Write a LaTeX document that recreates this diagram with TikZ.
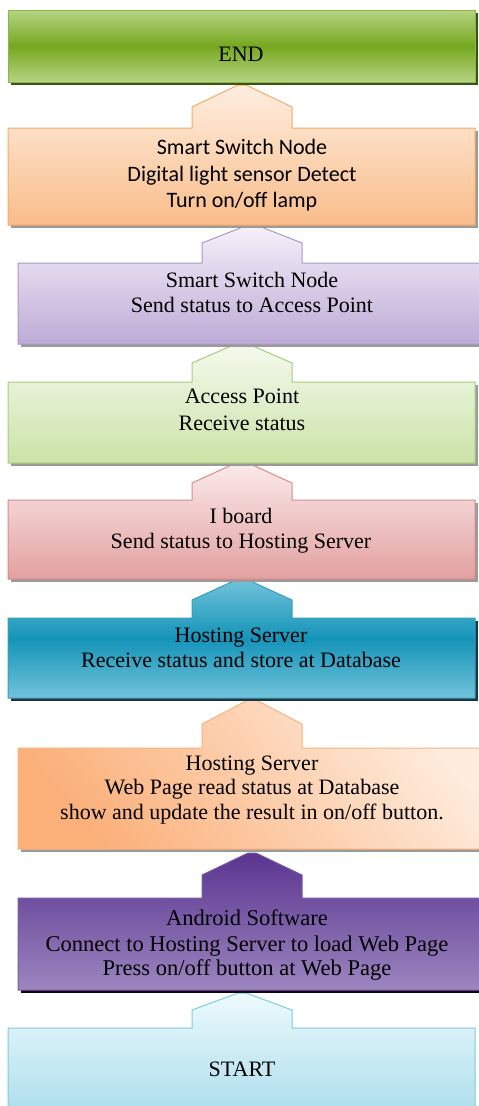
\documentclass[tikz,border=0pt]{standalone}
\usepackage{fontspec}
\setmainfont{Liberation Serif}
\newfontfamily\calfont{Carlito}
\definecolor{gEndA}{HTML}{B6D383}
\definecolor{gEndB}{HTML}{76A81F}
\definecolor{gEndE}{HTML}{8DB64A}
\definecolor{gEndS}{HTML}{3A5412}
\definecolor{orA}{HTML}{FEEEE0}
\definecolor{orB}{HTML}{F9BD8A}
\definecolor{orE}{HTML}{F7AA66}
\definecolor{lvA}{HTML}{F6F1FA}
\definecolor{lvB}{HTML}{BDABD6}
\definecolor{lvE}{HTML}{AC97C8}
\definecolor{grA}{HTML}{F5FAEE}
\definecolor{grB}{HTML}{CBE2A7}
\definecolor{grE}{HTML}{A9CC7C}
\definecolor{pkA}{HTML}{FCEBEB}
\definecolor{pkB}{HTML}{E2A0A0}
\definecolor{pkE}{HTML}{D98A8A}
\definecolor{tlA}{HTML}{72C3DA}
\definecolor{tlB}{HTML}{1494B9}
\definecolor{tlE}{HTML}{3A9DBD}
\definecolor{tlS}{HTML}{1C3444}
\definecolor{o2A}{HTML}{FBB07A}
\definecolor{o2B}{HTML}{FEEDDF}
\definecolor{o2E}{HTML}{F9B27A}
\definecolor{puA}{HTML}{5A3490}
\definecolor{puB}{HTML}{9C86BF}
\definecolor{puE}{HTML}{7A5CA6}
\definecolor{puS}{HTML}{0C0416}
\definecolor{blA}{HTML}{EDFAFD}
\definecolor{blB}{HTML}{A6DBEA}
\definecolor{blE}{HTML}{7ECCE0}
\definecolor{shGray}{HTML}{9A9A9A}
% #1 style, #2 x1, #3 x2, #4 top, #5 bottom, #6 tab centre, #7 shoulder y, #8 tip y, #9 shadow colour
\newcommand\tabbox[9]{%
  \fill[#9] (#2+3,#4+3) rectangle (#3+3,#5+3);
  \shadedraw[#1, line width=1bp, line join=miter]
    (#2,#4) -- (#6-50,#4) -- (#6-50,#7) -- (#6-4,#8) -- (#6+4,#8)
    -- (#6+50,#7) -- (#6+50,#4) -- (#3,#4) -- (#3,#5) -- (#2,#5) -- cycle;
}
\begin{document}
\begin{tikzpicture}[x=1bp,y=-1bp,
  txt/.style={anchor=base, inner sep=0pt, text=black,
    font=\fontsize{22.1}{25}\selectfont},
  btxt/.style={anchor=base, inner sep=0pt, text=black,
    font=\fontsize{22.6}{25}\selectfont},
  ctxt/.style={anchor=base, inner sep=0pt, text=black,
    font=\calfont\fontsize{22.1}{25}\selectfont}]
\useasboundingbox (0,0) rectangle (479,1106);
\begin{scope}
\clip (0,0) rectangle (479,1106);
\fill[white] (0,0) rectangle (479,1106);
% START
\tabbox{top color=blA, bottom color=blB, draw=blE}{8}{475}{1028}{1125}{242}{1010}{993}{white}
% Android
\tabbox{top color=puA, bottom color=puB, draw=puE}{18}{495}{898}{990}{252}{875}{853}{puS}
% Hosting server web page
\tabbox{left color=o2A, right color=o2B, shading angle=130, draw=o2E}{18}{495}{748}{849}{252}{724}{700}{shGray}
% Hosting server receive
\tabbox{top color=tlA, bottom color=tlA, middle color=tlB, draw=tlE}{8}{475}{618}{698}{242}{600}{579}{tlS}
% I board
\tabbox{top color=pkA, bottom color=pkB, draw=pkE}{8}{475}{500}{579}{242}{483}{462}{shGray}
% Access point
\tabbox{top color=grA, bottom color=grB, draw=grE}{8}{475}{382}{463}{242}{363}{343}{shGray}
% Smart switch send
\tabbox{top color=lvA, bottom color=lvB, draw=lvE}{18}{495}{263}{344}{252}{243}{225}{shGray}
% Smart switch detect
\tabbox{top color=orA, bottom color=orB, draw=orE}{8}{475}{128}{225}{242}{107}{85}{shGray}
% END
\fill[gEndS] (11,13) rectangle (478,85);
\shadedraw[top color=gEndA, bottom color=gEndA, middle color=gEndB, draw=gEndE, line width=1bp]
  (8,10) rectangle (475,82);
\end{scope}
% texts
\node[txt] (tEnd) at (241,61) {END};
\node[ctxt] (t2a) at (242,154) {Smart Switch Node};
\node[ctxt] (t2b) at (242,181) {Digital light sensor Detect};
\node[ctxt] (t2c) at (242,207) {Turn on/off lamp};
\node[txt] (t3a) at (252,287) {Smart Switch Node};
\node[txt] (t3b) at (252,312) {Send status to Access Point};
\node[txt] (t4a) at (242,403) {Access Point};
\node[txt] (t4b) at (242,430) {Receive status};
\node[txt] (t5a) at (241,523) {I board};
\node[txt] (t5b) at (241,548) {Send status to Hosting Server};
\node[txt] (t6a) at (241,642) {Hosting Server};
\node[txt] (t6b) at (241,667) {Receive status and store at Database};
\node[txt] (t7a) at (252,770) {Hosting Server};
\node[txt] (t7b) at (252,794) {Web Page read status at Database};
\node[txt] (t7c) at (252,819) {show and update the result in on/off button.};
\node[btxt] (t8a) at (247,925) {Android Software};
\node[btxt] (t8b) at (247,951) {Connect to Hosting Server to load Web Page};
\node[btxt] (t8c) at (247,975) {Press on/off button at Web Page};
\node[txt] (tStart) at (242,1076) {START};
\end{tikzpicture}
\end{document}
